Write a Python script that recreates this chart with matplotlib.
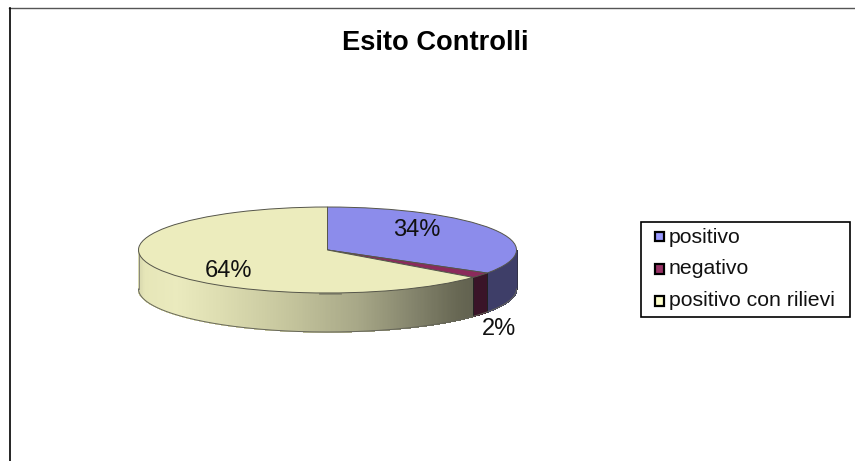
import matplotlib
matplotlib.use('Agg')
import matplotlib.pyplot as plt
from matplotlib.lines import Line2D
from matplotlib.patches import Rectangle
import numpy as np

plt.rcParams['font.family'] = ['Liberation Sans', 'DejaVu Sans']

categorie = ['positivo', 'negativo', 'positivo con rilievi']
valori = [34, 2, 64]
colori = ['#8c8ceb', '#8b2a5c', '#ecECBD']
colori_legenda = ['#9999ff', '#993366', '#ffffcc']
colori_lato = ['#3e3e68', '#3a1428', None]
pos_etichette = [(417, 230), (499, 329), (228, 271)]

W, H = 855, 461
fig = plt.figure(figsize=(W / 100, H / 100), dpi=100)

def fx(px):
    return px / W

def fy(py):
    return 1 - py / H

# ellisse della faccia superiore, in pixel
cx, cy, rx, ry = 327.5, 250, 189, 43
spessore = 39 / ry

ax = fig.add_axes([fx(cx - rx), fy(cy + ry), 2 * rx / W, 2 * ry / H])
wedges, _ = ax.pie(valori, colors=colori, startangle=90, counterclock=False,
                   wedgeprops={'edgecolor': '#55554a', 'linewidth': 0.7})
ax.set_aspect('auto')
ax.set_xlim(-1, 1)
ax.set_ylim(-1, 1)
for w in wedges:
    w.set_clip_on(False)

# sfumatura del lato giallo, da sinistra a destra
x_sf = [-1.0, -0.97, -0.8, -0.55, -0.2, 0.15, 0.45, 0.68, 0.76]
grigi = np.array([[0xd8, 0xd8, 0xae], [0xe6, 0xe6, 0xb8], [0xea, 0xea, 0xbe], [0xdc, 0xdc, 0xb0],
                  [0xc4, 0xc4, 0x9c], [0xa8, 0xa8, 0x88], [0x84, 0x84, 0x6c], [0x68, 0x68, 0x54], [0x62, 0x62, 0x50]]) / 255

def colore_lato(x):
    return [np.interp(x, x_sf, grigi[:, k]) for k in range(3)]

# lato del disco: solo la meta' anteriore e' visibile
frazioni = np.cumsum([0] + valori) / sum(valori) * 360
for i in range(len(valori)):
    a0 = max(frazioni[i], 90)
    a1 = min(frazioni[i + 1], 270)
    if a1 <= a0:
        continue
    passi = np.linspace(a0, a1, int((a1 - a0) * 2) + 2)
    for b0, b1 in zip(passi[:-1], passi[1:]):
        t = np.radians([b0, b1])
        xs = np.sin(t)
        ys = np.cos(t)
        col = colori_lato[i] if colori_lato[i] else colore_lato(xs.mean())
        ax.fill([xs[0], xs[1], xs[1], xs[0]],
                [ys[0], ys[1], ys[1] - spessore, ys[0] - spessore],
                color=col, linewidth=0.5, zorder=0.5, clip_on=False, antialiased=False)
    # spigolo fra le fette
    t = np.radians(a0)
    ax.plot([np.sin(t)] * 2, [np.cos(t), np.cos(t) - spessore], color='#222222', lw=0.7,
            zorder=0.6, clip_on=False)

# bordo inferiore e spigoli esterni
t = np.radians(np.linspace(90, 270, 300))
ax.plot(np.sin(t), np.cos(t) - spessore, color='#66665a', lw=0.7, zorder=0.7, clip_on=False)
ax.plot([-1, -1], [0, -spessore], color='#88887a', lw=0.7, zorder=0.7, clip_on=False)
ax.plot([1, 1], [0, -spessore], color='#33334a', lw=0.7, zorder=0.7, clip_on=False)
# piccola ombra sotto il centro del disco
ax.plot([-0.04, 0.07], [-1.03, -1.03], color='#8a8a72', lw=1.3, zorder=0.8, clip_on=False)
ax.set_xticks([])
ax.set_yticks([])

# cornice del grafico
fig.add_artist(Line2D([fx(9), fx(855)], [fy(8.5), fy(8.5)], color='#555555', lw=1))
fig.add_artist(Line2D([fx(9.5), fx(9.5)], [fy(8), fy(461)], color='black', lw=1.2))

fig.text(fx(435.5), fy(43), 'Esito Controlli', fontsize=19.6, fontweight='bold',
         ha='center', va='center', color='black')

for i in range(len(valori)):
    fig.text(fx(pos_etichette[i][0]), fy(pos_etichette[i][1]), '%d%%' % valori[i],
             fontsize=17, ha='center', va='center', color='#111111')

# legenda disegnata a mano per tenere i quadratini piccoli
fig.add_artist(Rectangle((fx(640.5), fy(316.5)), 209.5 / W, 95 / H, transform=fig.transFigure,
                         facecolor='white', edgecolor='black', lw=1.2))
y_leg = [237, 269, 301]
for nome, col, y in zip(categorie, colori_legenda, y_leg):
    fig.add_artist(Rectangle((fx(654.5), fy(y + 4.5)), 9.5 / W, 9.5 / H, transform=fig.transFigure,
                             facecolor=col, edgecolor='black', lw=1.6))
    fig.text(fx(669), fy(y), nome, fontsize=15.3, ha='left', va='center', color='#111111')

fig.savefig('out.png', dpi=100)
